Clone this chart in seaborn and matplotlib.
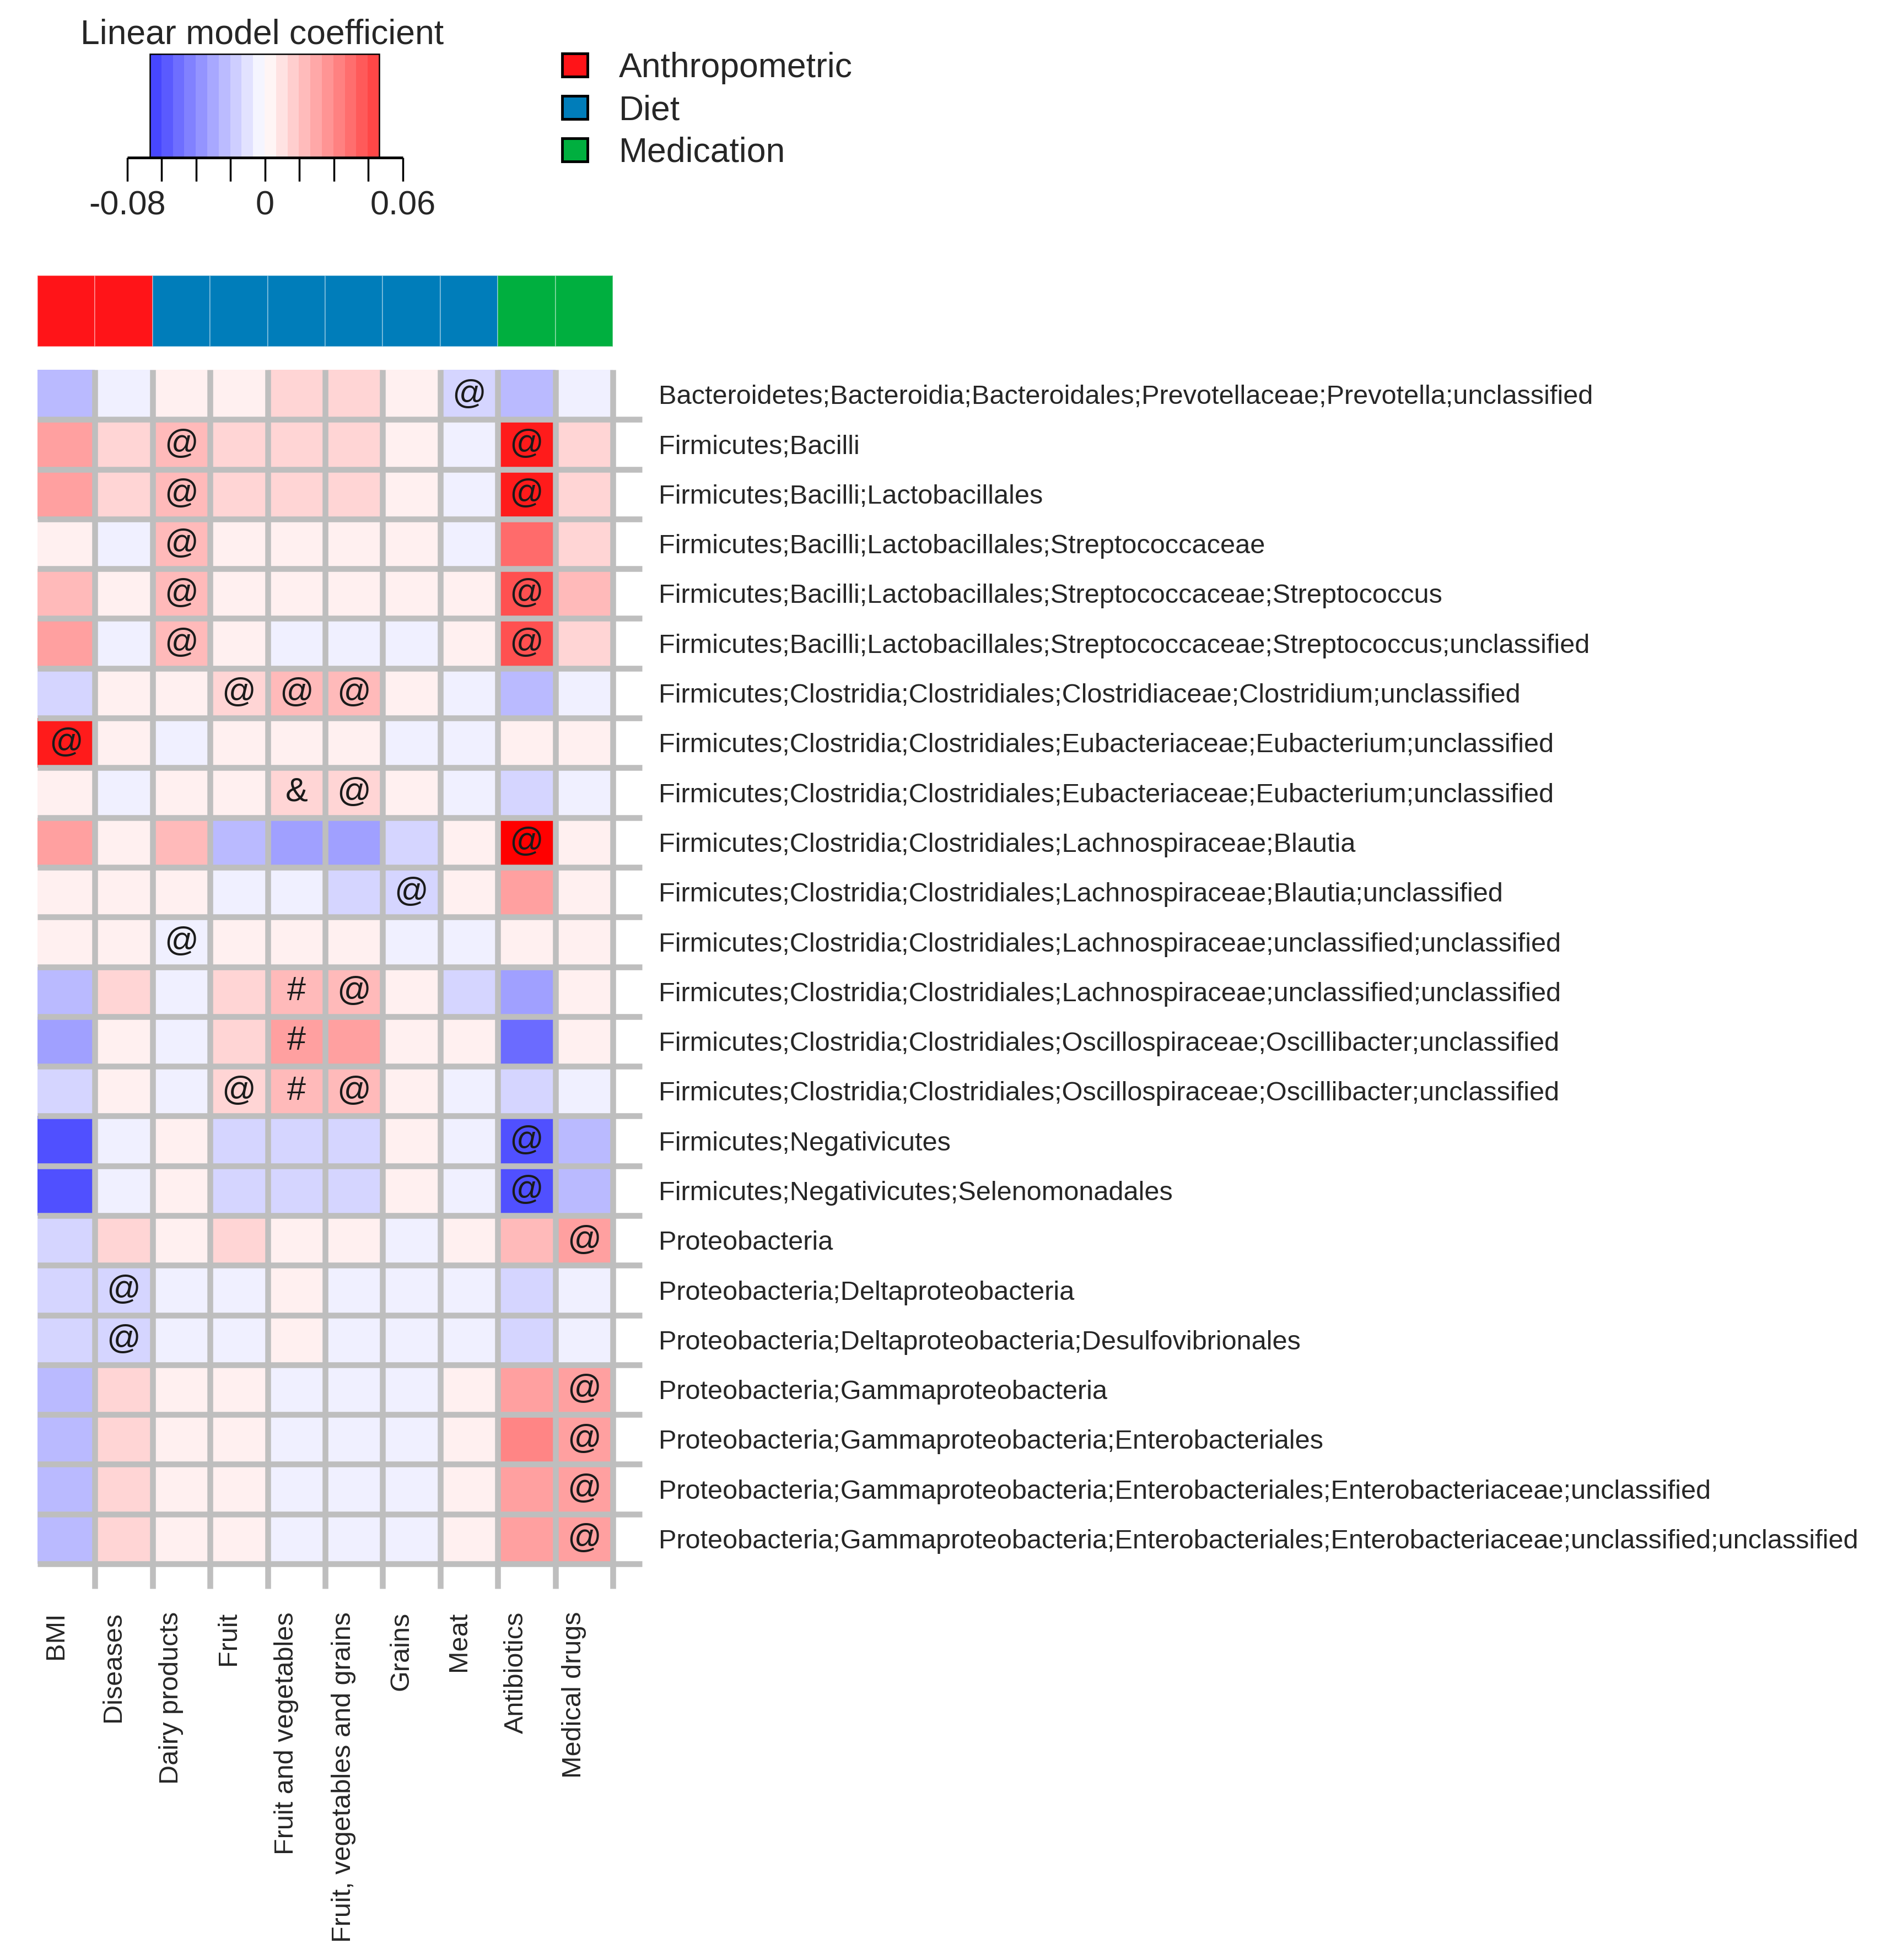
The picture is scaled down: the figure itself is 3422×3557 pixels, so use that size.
import matplotlib
matplotlib.use("Agg")
import matplotlib.pyplot as plt
from matplotlib.colors import ListedColormap, TwoSlopeNorm
from matplotlib.patches import Rectangle
import seaborn as sns
import numpy as np

sns.set_style("white")
plt.rcParams["font.family"] = ["Liberation Sans", "DejaVu Sans"]

# donnees
variables = ["BMI", "Diseases", "Dairy products", "Fruit", "Fruit and vegetables",
             "Fruit, vegetables and grains", "Grains", "Meat", "Antibiotics", "Medical drugs"]
groupes = ["Anthropometric", "Anthropometric", "Diet", "Diet", "Diet", "Diet", "Diet", "Diet",
           "Medication", "Medication"]
groupes_noms = ["Anthropometric", "Diet", "Medication"]
groupes_couleurs = ["#FF1418", "#007DBA", "#00AF3F"]

taxons = [
    "Bacteroidetes;Bacteroidia;Bacteroidales;Prevotellaceae;Prevotella;unclassified",
    "Firmicutes;Bacilli",
    "Firmicutes;Bacilli;Lactobacillales",
    "Firmicutes;Bacilli;Lactobacillales;Streptococcaceae",
    "Firmicutes;Bacilli;Lactobacillales;Streptococcaceae;Streptococcus",
    "Firmicutes;Bacilli;Lactobacillales;Streptococcaceae;Streptococcus;unclassified",
    "Firmicutes;Clostridia;Clostridiales;Clostridiaceae;Clostridium;unclassified",
    "Firmicutes;Clostridia;Clostridiales;Eubacteriaceae;Eubacterium;unclassified",
    "Firmicutes;Clostridia;Clostridiales;Eubacteriaceae;Eubacterium;unclassified",
    "Firmicutes;Clostridia;Clostridiales;Lachnospiraceae;Blautia",
    "Firmicutes;Clostridia;Clostridiales;Lachnospiraceae;Blautia;unclassified",
    "Firmicutes;Clostridia;Clostridiales;Lachnospiraceae;unclassified;unclassified",
    "Firmicutes;Clostridia;Clostridiales;Lachnospiraceae;unclassified;unclassified",
    "Firmicutes;Clostridia;Clostridiales;Oscillospiraceae;Oscillibacter;unclassified",
    "Firmicutes;Clostridia;Clostridiales;Oscillospiraceae;Oscillibacter;unclassified",
    "Firmicutes;Negativicutes",
    "Firmicutes;Negativicutes;Selenomonadales",
    "Proteobacteria",
    "Proteobacteria;Deltaproteobacteria",
    "Proteobacteria;Deltaproteobacteria;Desulfovibrionales",
    "Proteobacteria;Gammaproteobacteria",
    "Proteobacteria;Gammaproteobacteria;Enterobacteriales",
    "Proteobacteria;Gammaproteobacteria;Enterobacteriales;Enterobacteriaceae;unclassified",
    "Proteobacteria;Gammaproteobacteria;Enterobacteriales;Enterobacteriaceae;unclassified;unclassified",
]

coefficients = [
    [-0.020, -0.004, 0.003, 0.003, 0.009, 0.009, 0.003, -0.012, -0.020, -0.004],
    [0.021, 0.009, 0.015, 0.009, 0.009, 0.009, 0.003, -0.004, 0.051, 0.009],
    [0.021, 0.009, 0.015, 0.009, 0.009, 0.009, 0.003, -0.004, 0.051, 0.009],
    [0.003, -0.004, 0.015, 0.003, 0.003, 0.003, 0.003, -0.004, 0.033, 0.009],
    [0.015, 0.003, 0.015, 0.003, 0.003, 0.003, 0.003, 0.003, 0.039, 0.015],
    [0.021, -0.004, 0.015, 0.003, -0.004, -0.004, -0.004, 0.003, 0.039, 0.009],
    [-0.012, 0.003, 0.003, 0.009, 0.015, 0.015, 0.003, -0.004, -0.020, -0.004],
    [0.051, 0.003, -0.004, 0.003, 0.003, 0.003, -0.004, -0.004, 0.003, 0.003],
    [0.003, -0.004, 0.003, 0.003, 0.009, 0.009, 0.003, -0.004, -0.012, -0.004],
    [0.021, 0.003, 0.015, -0.020, -0.028, -0.028, -0.012, 0.003, 0.057, 0.003],
    [0.003, 0.003, 0.003, -0.004, -0.004, -0.012, -0.012, 0.003, 0.021, 0.003],
    [0.003, 0.003, -0.004, 0.003, 0.003, 0.003, -0.004, -0.004, 0.003, 0.003],
    [-0.020, 0.009, -0.004, 0.009, 0.015, 0.015, 0.003, -0.012, -0.028, 0.003],
    [-0.028, 0.003, -0.004, 0.009, 0.021, 0.021, 0.003, 0.003, -0.044, 0.003],
    [-0.012, 0.003, -0.004, 0.009, 0.015, 0.015, 0.003, -0.004, -0.012, -0.004],
    [-0.052, -0.004, 0.003, -0.012, -0.012, -0.012, 0.003, -0.004, -0.052, -0.020],
    [-0.052, -0.004, 0.003, -0.012, -0.012, -0.012, 0.003, -0.004, -0.052, -0.020],
    [-0.012, 0.009, 0.003, 0.009, 0.003, 0.003, -0.004, 0.003, 0.015, 0.021],
    [-0.012, -0.012, -0.004, -0.004, 0.003, -0.004, -0.004, -0.004, -0.012, -0.004],
    [-0.012, -0.012, -0.004, -0.004, 0.003, -0.004, -0.004, -0.004, -0.012, -0.004],
    [-0.020, 0.009, 0.003, 0.003, -0.004, -0.004, -0.004, 0.003, 0.021, 0.021],
    [-0.020, 0.009, 0.003, 0.003, -0.004, -0.004, -0.004, 0.003, 0.027, 0.021],
    [-0.020, 0.009, 0.003, 0.003, -0.004, -0.004, -0.004, 0.003, 0.021, 0.021],
    [-0.020, 0.009, 0.003, 0.003, -0.004, -0.004, -0.004, 0.003, 0.021, 0.021],
]

# symboles de significativite
signif = [
    ["", "", "", "", "", "", "", "@", "", ""],
    ["", "", "@", "", "", "", "", "", "@", ""],
    ["", "", "@", "", "", "", "", "", "@", ""],
    ["", "", "@", "", "", "", "", "", "", ""],
    ["", "", "@", "", "", "", "", "", "@", ""],
    ["", "", "@", "", "", "", "", "", "@", ""],
    ["", "", "", "@", "@", "@", "", "", "", ""],
    ["@", "", "", "", "", "", "", "", "", ""],
    ["", "", "", "", "&", "@", "", "", "", ""],
    ["", "", "", "", "", "", "", "", "@", ""],
    ["", "", "", "", "", "", "@", "", "", ""],
    ["", "", "@", "", "", "", "", "", "", ""],
    ["", "", "", "", "#", "@", "", "", "", ""],
    ["", "", "", "", "#", "", "", "", "", ""],
    ["", "", "", "@", "#", "@", "", "", "", ""],
    ["", "", "", "", "", "", "", "", "@", ""],
    ["", "", "", "", "", "", "", "", "@", ""],
    ["", "", "", "", "", "", "", "", "", "@"],
    ["", "@", "", "", "", "", "", "", "", ""],
    ["", "@", "", "", "", "", "", "", "", ""],
    ["", "", "", "", "", "", "", "", "", "@"],
    ["", "", "", "", "", "", "", "", "", "@"],
    ["", "", "", "", "", "", "", "", "", "@"],
    ["", "", "", "", "", "", "", "", "", "@"],
]

vmin, vmax = -0.08, 0.06
key_ticks = [-0.08, 0, 0.06]

# palette bleu-blanc-rouge en 20 niveaux
f = np.linspace(0.06, 1.0, 10)
bleus = [(1 - x, 1 - x, 1.0) for x in f[::-1]]
rouges = [(1.0, 1 - x, 1 - x) for x in f]
cmap = ListedColormap(bleus + rouges)
norm = TwoSlopeNorm(vmin=vmin, vcenter=0, vmax=vmax)

W, H = 3422, 3557
fig = plt.figure(figsize=(W / 100, H / 100), dpi=100)

# calque en pixels pour la cle et la legende
bg = fig.add_axes([0, 0, 1, 1])
bg.set_xlim(0, W)
bg.set_ylim(H, 0)
bg.axis("off")

# cle de couleur
k_left, k_right, k_top, k_bot = 272, 688, 98, 286
t_left, t_step = 231, 62.5
stripes = np.linspace(-0.72, 0.72, 20)
key_cols = [(1 - abs(s), 1 - abs(s), 1.0) if s < 0 else (1.0, 1 - s, 1 - s) for s in stripes]
bg.imshow(np.array([key_cols]), extent=(k_left, k_right, k_bot, k_top), aspect="auto", interpolation="nearest")
bg.add_patch(Rectangle((k_left, k_top), k_right - k_left, k_bot - k_top, fill=False, lw=1.8, ec="black"))
bg.hlines(k_bot, t_left, t_left + 8 * t_step, color="black", lw=3.5)
bg.vlines([t_left + i * t_step for i in range(9)], k_bot, k_bot + 43, color="black", lw=2.5)
for pos, v in zip([0, 4, 8], key_ticks):
    bg.text(t_left + pos * t_step, 390, f"{v:g}", ha="center", va="baseline", fontsize=44)
bg.text(476, 79, "Linear model coefficient", ha="center", va="baseline", fontsize=45)

# legende des groupes
for i, (nom, col) in enumerate(zip(groupes_noms, groupes_couleurs)):
    yc = 118 + 77 * i
    bg.add_patch(Rectangle((1020, yc - 21), 46, 42, fc=col, ec="black", lw=3.5))
    bg.text(1123, yc + 22, nom, ha="left", va="baseline", fontsize=45)
bg.set_xlim(0, W)
bg.set_ylim(H, 0)

# barre des groupes
x0, x1 = 68, 1112
ax_top = fig.add_axes([x0 / W, 1 - 629 / H, (x1 - x0) / W, 129 / H])
codes = np.array([[groupes_noms.index(g) for g in groupes]])
sns.heatmap(codes, cmap=ListedColormap(groupes_couleurs), vmin=-0.5, vmax=2.5, cbar=False,
            linewidths=1.2, linecolor=(1, 1, 1, 0.35), xticklabels=False, yticklabels=False, ax=ax_top)

# carte de chaleur
y0, y1 = 671, 2838
ax = fig.add_axes([x0 / W, 1 - y1 / H, (x1 - x0) / W, (y1 - y0) / H])
vals = np.array(coefficients)
sns.heatmap(vals, cmap=cmap, norm=norm, cbar=False, annot=np.array(signif), fmt="",
            annot_kws={"fontsize": 44, "color": "#1a1a1a"},
            xticklabels=False, yticklabels=False, ax=ax)

nrow, ncol = vals.shape
col_w = (x1 - x0) / ncol
row_h = (y1 - y0) / nrow
ax.hlines(np.arange(1, nrow + 1), 0, (1165 - x0) / col_w, color="#BEBEBE", lw=7.6, clip_on=False)
ax.vlines(np.arange(1, ncol + 1), 0, (2883 - y0) / row_h, color="#BEBEBE", lw=7.6, clip_on=False)

for i, lab in enumerate(taxons):
    ax.text((1195 - x0) / col_w, i + 0.5 + 0.19, lab, ha="left", va="baseline", fontsize=35, clip_on=False)
for j, lab in enumerate(variables):
    ax.text(j + 0.44, (2925 - y0) / row_h, lab, rotation=90, rotation_mode="anchor",
            ha="right", va="baseline", fontsize=35, clip_on=False)

plt.savefig("out.png", dpi=100)
plt.close()
